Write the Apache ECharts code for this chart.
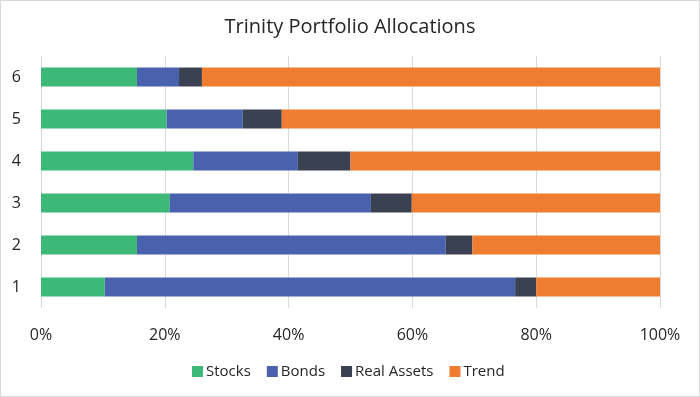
<!DOCTYPE html>
<html><head><meta charset="utf-8">
<script src="https://cdn.jsdelivr.net/npm/echarts@6/dist/echarts.min.js"></script>
<style>
html,body{margin:0;padding:0;background:#fff;}
#c{width:698px;height:395px;border:1px solid #d9d9d9;}
</style></head>
<body><div id="c"></div>
<script>
const categories = ['1','2','3','4','5','6'];
const stocks = [10.3, 15.5, 20.8, 24.6, 20.3, 15.5];
const bonds = [66.3, 49.9, 32.5, 16.9, 12.3, 6.8];
const realAssets = [3.4, 4.3, 6.6, 8.5, 6.3, 3.7];
const trend = [20.0, 30.3, 40.1, 50.0, 61.1, 74.0];
const xTicks = [0, 20, 40, 60, 80, 100];

const font = '"Open Sans", sans-serif';
const chart = echarts.init(document.getElementById('c'), null, {renderer:'canvas'});
function s(name, data, color){
  return {name, type:'bar', stack:'a', data, barWidth:19, itemStyle:{color}, emphasis:{disabled:true}};
}
chart.setOption({
  animation:false,
  title:{text:'Trinity Portfolio Allocations', left:'center', top:11,
    textStyle:{fontFamily:font, fontSize:20, fontWeight:'normal', color:'#262626'}},
  grid:{left:40, right:39, top:55, bottom:88},
  legend:{bottom:12, left:186, itemWidth:11, itemHeight:11, itemGap:16, icon:'rect',
    textStyle:{fontFamily:font, fontSize:15, color:'#262626', padding:[0,0,0,-2]}},
  xAxis:{type:'value', min:xTicks[0], max:xTicks[xTicks.length-1], interval:20,
    axisLabel:{formatter:'{value}%', fontFamily:font, fontSize:16, color:'#262626', margin:19},
    splitLine:{lineStyle:{color:'#d9d9d9', width:1}},
    axisLine:{show:false}, axisTick:{show:false}},
  yAxis:{type:'category', data:categories,
    axisLabel:{fontFamily:font, fontSize:16, color:'#262626', margin:20},
    axisLine:{show:false}, axisTick:{show:false}},
  series:[
    s('Stocks', stocks, '#3cb878'),
    s('Bonds', bonds, '#4a62ae'),
    s('Real Assets', realAssets, '#3a4150'),
    s('Trend', trend, '#ee7d31')
  ]
});
</script></body></html>
